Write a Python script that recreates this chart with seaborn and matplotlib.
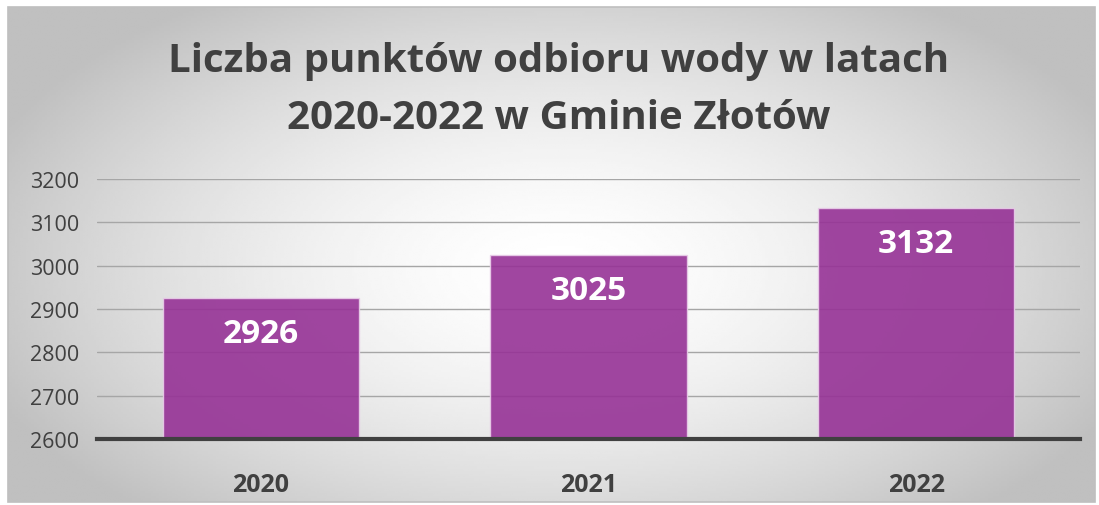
import matplotlib.pyplot as plt
import numpy as np
import pandas as pd
import seaborn as sns
from matplotlib.patches import Rectangle

# Data
years = ["2020", "2021", "2022"]
points = [2926, 3025, 3132]
y_ticks = [2600, 2700, 2800, 2900, 3000, 3100, 3200]

title = "Liczba punktów odbioru wody w latach\n2020-2022 w Gminie Złotów"

df = pd.DataFrame({"rok": years, "punkty": points})

sns.set_style("white")
plt.rcParams["font.family"] = ["Open Sans", "DejaVu Sans"]

fig = plt.figure(figsize=(10.99, 5.06), dpi=100)

# Background: radial grey gradient inside a thin frame
bg = fig.add_axes([0, 0, 1, 1], zorder=0)
bg.set_xlim(0, 1099)
bg.set_ylim(506, 0)
bg.axis("off")
gx, gy = np.meshgrid(np.linspace(8, 1095, 400), np.linspace(8, 503, 200))
r = np.sqrt(((gx - 560) / 620) ** 2 + ((gy - 270) / 330) ** 2)
shade = np.clip(1.0 - 0.25 * r ** 1.6, 0.75, 1.0)
bg.imshow(shade, cmap="gray", vmin=0, vmax=1, extent=(8, 1095, 503, 8),
          aspect="auto", interpolation="bilinear")
bg.add_patch(Rectangle((8, 8), 1087, 495, fill=False, edgecolor="#BFBFBF", lw=1.2))

ax = fig.add_axes([97 / 1099, 1 - 440 / 506, (1080 - 97) / 1099, 260 / 506], zorder=1)
ax.patch.set_alpha(0)

sns.barplot(data=df, x="rok", y="punkty", color="#963296", saturation=1, width=0.6,
            edgecolor="#E8CDE8", linewidth=1, alpha=0.9, ax=ax, zorder=3)

ax.set_ylim(2600, 3200)
ax.set_yticks(y_ticks)
ax.yaxis.grid(True, color="#A6A6A6", lw=1, zorder=0)
ax.set_axisbelow(True)
for s in ["top", "right", "left"]:
    ax.spines[s].set_visible(False)
ax.spines["bottom"].set_color("#404040")
ax.spines["bottom"].set_linewidth(3)
ax.spines["bottom"].set_zorder(5)
ax.tick_params(axis="y", length=0, pad=13, labelsize=15.5, labelcolor="#404040")
ax.tick_params(axis="x", length=0, pad=24, labelsize=18, labelcolor="#404040")
for t in ax.get_xticklabels():
    t.set_fontweight("bold")
ax.set_xlabel("")
ax.set_ylabel("")

for i, v in enumerate(points):
    ax.text(i, v - 82, str(v), ha="center", va="center", color="white",
            fontsize=24, fontweight="bold", zorder=6)

fig.text(0.508, 0.823, title, ha="center", va="center", fontsize=29,
         fontweight="bold", color="#404040", linespacing=1.6, zorder=2)

fig.savefig("out.png", dpi=100)
